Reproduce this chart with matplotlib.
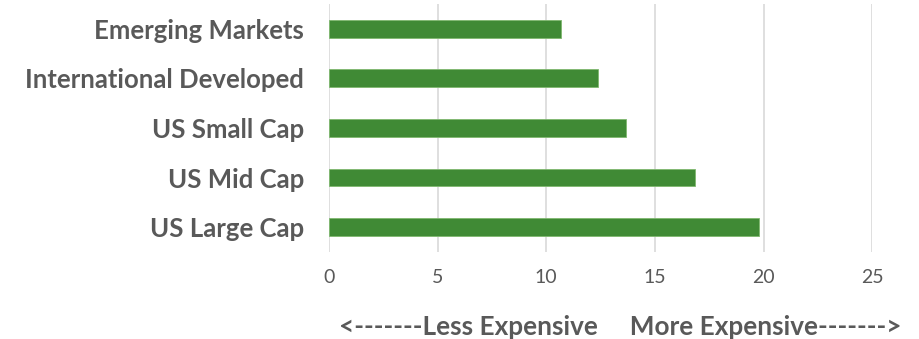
import matplotlib.pyplot as plt

categories = ['US Large Cap', 'US Mid Cap', 'US Small Cap',
              'International Developed', 'Emerging Markets']
values = [19.8, 16.85, 13.65, 12.4, 10.7]
xticks = [0, 5, 10, 15, 20, 25]

plt.rcParams['font.family'] = ['Lato', 'DejaVu Sans']

fig = plt.figure(figsize=(9.19, 3.39), dpi=100)
ax = fig.add_axes([0.358, 0.257, 0.591, 0.731])

ax.barh(range(len(categories)), values, height=0.36, color='#408A35',
        edgecolor='#7FB86F', linewidth=0.6, zorder=3)

ax.set_xlim(0, 25)
ax.set_ylim(-0.5, len(categories) - 0.5)
ax.set_xticks(xticks)
ax.set_yticks(range(len(categories)))
ax.set_yticklabels(categories, fontsize=18.5, fontweight='bold', color='#595959')
ax.tick_params(axis='x', labelsize=14, labelcolor='#595959', length=0, pad=12)
ax.tick_params(axis='y', length=0, pad=18)
ax.grid(axis='x', color='#d9d9d9', linewidth=1.2, zorder=0)
for s in ax.spines.values():
    s.set_visible(False)

fig.text(0.6745, 0.035, '<-------Less Expensive     More Expensive------->',
         ha='center', va='center', fontsize=18.8, fontweight='bold', color='#595959')

fig.savefig('out.png', dpi=100)
